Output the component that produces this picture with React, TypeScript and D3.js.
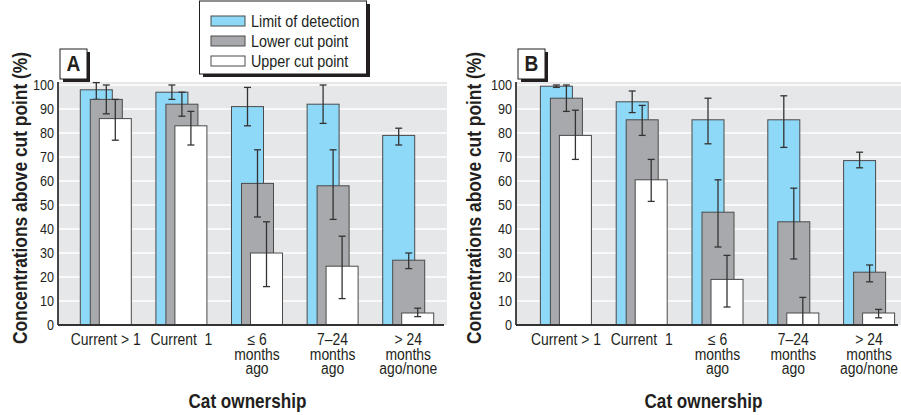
import React, { useEffect, useRef } from 'react'
import * as d3 from 'd3'

// categories (x axis), one entry per group, split into label lines
const categories = ['Current > 1', 'Current  1', '≤ 6 months ago', '7–24 months ago', '> 24 months ago/none']
const categoryLines = [['Current > 1'], ['Current  1'], ['≤ 6', 'months', 'ago'], ['7–24', 'months', 'ago'], ['> 24', 'months', 'ago/none']]
const seriesNames = ['Limit of detection', 'Lower cut point', 'Upper cut point']
const yTicks = [0, 10, 20, 30, 40, 50, 60, 70, 80, 90, 100]

// Panel A values (%) and 95% CI
const aLimit = [98, 97, 91, 92, 79]
const aLimitCI = [[94, 101], [94, 100], [83, 99], [84, 100], [75, 82]]
const aLower = [94, 92, 59, 58, 27]
const aLowerCI = [[88, 100], [87, 97], [45, 73], [44, 73], [23.5, 30]]
const aUpper = [86, 83, 30, 24.5, 5]
const aUpperCI = [[77, 94], [75, 89], [16, 43], [11, 37], [3.5, 7]]

// Panel B values (%) and 95% CI
const bLimit = [99.5, 93, 85.5, 85.5, 68.5]
const bLimitCI = [[99, 100], [88.5, 97.5], [75.5, 94.5], [74, 95.5], [65.5, 72]]
const bLower = [94.5, 85.5, 47, 43, 22]
const bLowerCI = [[89, 100], [79, 91.5], [32.5, 60.5], [27.5, 57], [18, 25]]
const bUpper = [79, 60.5, 19, 5, 5]
const bUpperCI = [[69, 89.5], [51.5, 69], [7.5, 29], [0, 11.5], [3, 6.5]]

const colors = ['#8ed8f8', '#a7a9ac', '#ffffff']
const FONT = "'Liberation Sans', Arial, sans-serif"
const INK = '#231f20'
const SQUEEZE = 0.87 // fake the condensed face

type Panel = {
  letter: string
  left: number
  right: number
  band: [number, number]
  titleX: number
  values: number[][]
  cis: number[][][]
}

const panels: Panel[] = [
  { letter: 'A', left: 58, right: 447, band: [68, 446], titleX: 27, values: [aLimit, aLower, aUpper], cis: [aLimitCI, aLowerCI, aUpperCI] },
  { letter: 'B', left: 516, right: 901, band: [528, 907], titleX: 481, values: [bLimit, bLower, bUpper], cis: [bLimitCI, bLowerCI, bUpperCI] },
]

function label(sel: any, x: number, y: number, txt: string | number, size: number, anchor = 'start', bold = false) {
  return sel.append('text')
    .attr('transform', `translate(${x},${y}) scale(${SQUEEZE},1)`)
    .attr('text-anchor', anchor)
    .attr('font-family', FONT).attr('font-size', size)
    .attr('font-weight', bold ? 'bold' : 'normal')
    .attr('fill', INK).style('white-space', 'pre')
    .text(txt)
}

export default function App() {
  const ref = useRef<SVGSVGElement | null>(null)

  useEffect(() => {
    if (!ref.current) return
    const svg = d3.select(ref.current)
    svg.selectAll('*').remove()
    const width = 901, height = 415
    svg.attr('width', width).attr('height', height).attr('viewBox', `0 0 ${width} ${height}`)
    svg.append('rect').attr('width', width).attr('height', height).attr('fill', '#fff')

    const y = d3.scaleLinear().domain([0, 100]).range([325, 85])
    const offsets = [-25.5, -15.5, -6.5]
    const barW = 32

    panels.forEach(p => {
      const g = svg.append('g')
      const x = d3.scaleBand().domain(categories).range(p.band).padding(0)

      // plot background + grid
      g.append('rect').attr('x', p.left).attr('y', 82).attr('width', p.right - p.left).attr('height', y(0) - 82).attr('fill', '#e6e7e8')
      g.selectAll('line.grid').data(yTicks.filter(t => t > 0)).enter().append('line')
        .attr('x1', p.left).attr('x2', p.right).attr('y1', d => y(d)).attr('y2', d => y(d))
        .attr('stroke', '#fff').attr('stroke-width', 1.6)

      // y tick labels
      yTicks.forEach(t => label(g, p.left - 4, y(t) + 5, t, 14.5, 'end'))

      // bars + error bars
      p.values.forEach((vals, si) => {
        const sg = g.append('g')
        categories.forEach((c, i) => {
          const x0 = (x(c)! + x.bandwidth() / 2) + offsets[si]
          sg.append('rect').attr('x', x0).attr('y', y(vals[i])).attr('width', barW).attr('height', y(0) - y(vals[i]))
            .attr('fill', colors[si]).attr('stroke', '#4a4a4a').attr('stroke-width', 1)
          const [lo, hi] = p.cis[si][i]
          const cx = x0 + barW / 2
          sg.append('line').attr('x1', cx).attr('x2', cx).attr('y1', y(lo)).attr('y2', y(hi)).attr('stroke', '#333').attr('stroke-width', 1.3)
          ;[lo, hi].forEach(v => {
            sg.append('line').attr('x1', cx - 3.5).attr('x2', cx + 3.5).attr('y1', y(v)).attr('y2', y(v)).attr('stroke', '#333').attr('stroke-width', 1.3)
          })
        })
      })

      // axes lines
      g.append('line').attr('x1', p.left).attr('x2', p.left).attr('y1', 82).attr('y2', y(0)).attr('stroke', '#333').attr('stroke-width', 1.8)
      g.append('line').attr('x1', p.left).attr('x2', Math.min(p.right - 3, 898)).attr('y1', y(0)).attr('y2', y(0)).attr('stroke', '#333').attr('stroke-width', 1.8)

      // x labels: one text per category, lines as tspans
      categories.forEach((c, i) => {
        const cx = x(c)! + x.bandwidth() / 2
        const t = label(g, cx, 345, '', 16, 'middle')
        categoryLines[i].forEach((line, li) => {
          t.append('tspan').attr('x', 0).attr('dy', li === 0 ? 0 : 14.5).text(line)
        })
      })

      // axis titles
      const cxMid = (p.left + p.right) / 2 - 5
      g.append('text').attr('x', cxMid).attr('y', 408).attr('text-anchor', 'middle')
        .attr('textLength', 118).attr('lengthAdjust', 'spacingAndGlyphs')
        .attr('font-family', FONT).attr('font-weight', 'bold').attr('font-size', 20.5).attr('fill', INK).text('Cat ownership')
      g.append('text').attr('transform', `translate(${p.titleX},198) rotate(-90)`).attr('text-anchor', 'middle')
        .attr('textLength', 292).attr('lengthAdjust', 'spacingAndGlyphs')
        .attr('font-family', FONT).attr('font-weight', 'bold').attr('font-size', 20.5).attr('fill', INK).text('Concentrations above cut point (%)')

      // panel letter box
      const bx = p.left + 2, by = 49
      g.append('rect').attr('x', bx + 3).attr('y', by + 3).attr('width', 27).attr('height', 30).attr('fill', INK)
      g.append('rect').attr('x', bx).attr('y', by).attr('width', 27).attr('height', 30).attr('fill', '#fff').attr('stroke', INK).attr('stroke-width', 1)
      label(g, bx + 13.5, by + 22, p.letter, 22, 'middle', true)
    })

    // legend
    const lg = svg.append('g')
    lg.append('rect').attr('x', 203).attr('y', 4).attr('width', 167).attr('height', 73).attr('fill', INK)
    lg.append('rect').attr('x', 199.5).attr('y', 1).attr('width', 167).attr('height', 73).attr('fill', '#fff').attr('stroke', INK).attr('stroke-width', 1)
    seriesNames.forEach((s, i) => {
      const yy = 16 + i * 20
      lg.append('rect').attr('x', 211).attr('y', yy).attr('width', 34).attr('height', 10).attr('fill', colors[i]).attr('stroke', '#4a4a4a').attr('stroke-width', 1)
      label(lg, 251, yy + 11, s, 16.5)
    })
  }, [])

  return <svg ref={ref} style={{ position: 'absolute', left: 0, top: 0 }} />
}
